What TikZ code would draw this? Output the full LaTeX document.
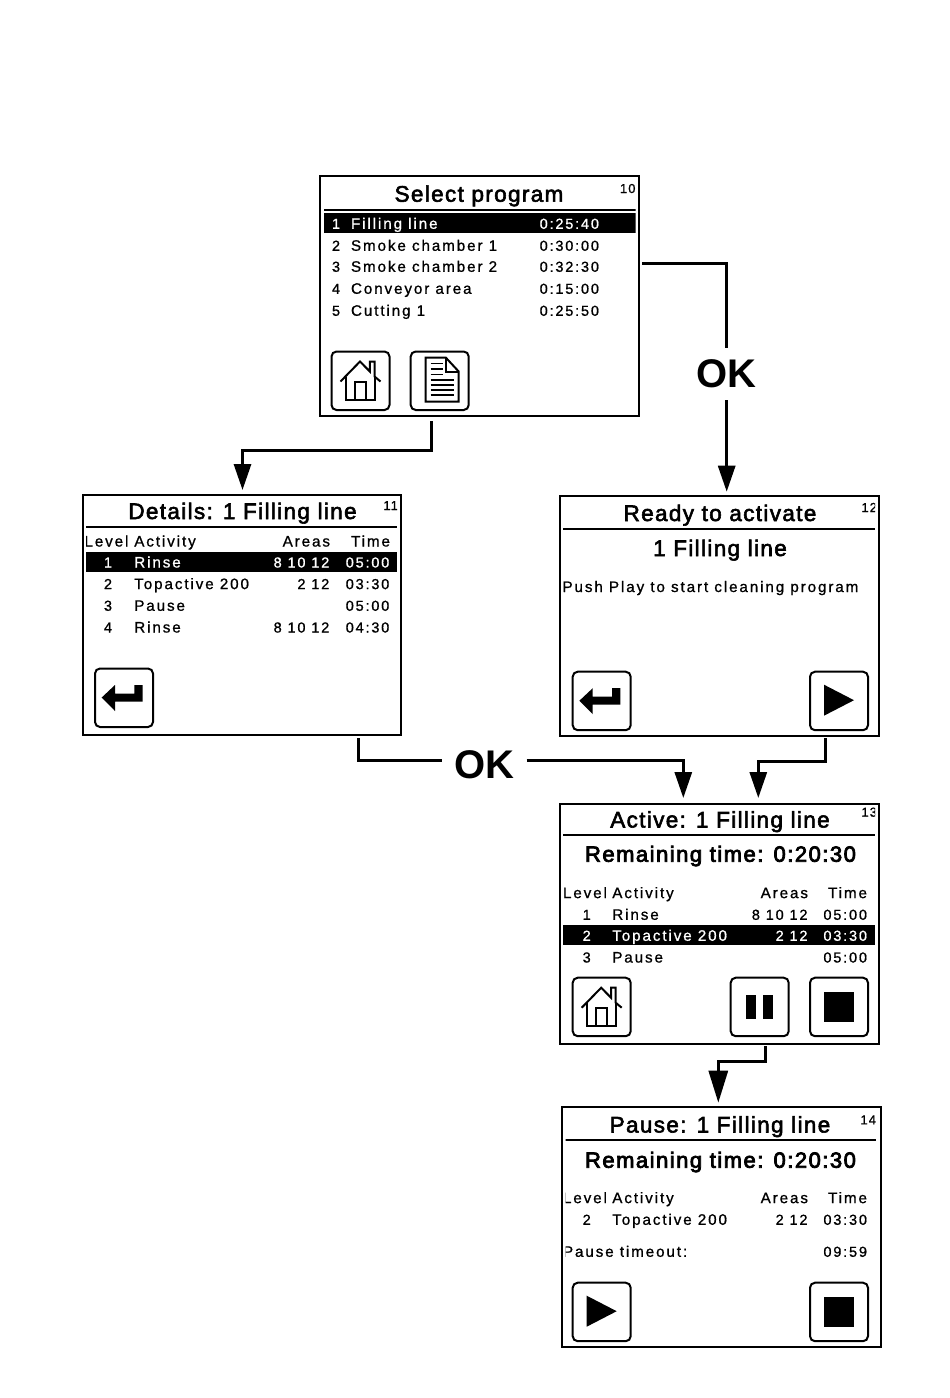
\documentclass[tikz,border=0pt]{standalone}
\usepackage{fontspec}
\usetikzlibrary{arrows.meta,calc}
\setmainfont{Liberation Sans}
\newfontfamily\smallf[LetterSpace=12.5,FakeBold=0.9]{Liberation Sans}
\newfontfamily\areaf[LetterSpace=12.5,FakeBold=0.9]{Liberation Sans}
\newfontfamily\numf[LetterSpace=8,FakeBold=0.9]{Liberation Sans}
\newfontfamily\titlef[LetterSpace=6,FakeBold=2.5]{Liberation Sans}
\newfontfamily\remf[LetterSpace=6.8,FakeBold=3.5]{Liberation Sans}
\newcommand\fsS{\smallf\fontsize{15.2}{17}\selectfont}
\newcommand\fsA{\areaf\fontsize{14.5}{17}\selectfont}
\newcommand\fsN{\numf\fontsize{13}{15}\selectfont}
\newcommand\fsT{\titlef\fontsize{22.5}{26}\selectfont}
\newcommand\fsR{\remf\fontsize{22}{26}\selectfont}
\newcounter{tn}
\tikzset{
  screen/.style={draw=black,line width=2pt,fill=white,rectangle,inner sep=0pt,outer sep=0pt},
  lbl/.style={inner sep=0pt,outer sep=0pt,font=\fsS,yshift=0.2pt},
  numlbl/.style={inner sep=0pt,outer sep=0pt,font=\fsN,anchor=base east},
  titlelbl/.style={inner sep=0pt,outer sep=0pt,font=\fsT,anchor=base},
  remlbl/.style={inner sep=0pt,outer sep=0pt,font=\fsR,anchor=base},
  oklbl/.style={inner sep=0pt,outer sep=0pt,font=\fontsize{40}{44}\bfseries\selectfont},
  rule/.style={line width=1.8pt,draw=black},
  bar/.style={fill=black,draw=none},
  btn/.style={draw=black,line width=2pt,rounded corners=5pt,minimum width=58pt,minimum height=58.5pt,inner sep=0pt,outer sep=0pt,rectangle},
  conn/.style={line width=3pt,draw=black},
  conna/.style={conn,-{Triangle[length=26pt,width=17pt]}},
  icon/.style={line width=2pt,draw=black,line join=miter},
  solidicon/.style={fill=black,draw=none},
}
\newcommand\txtL[4][black]{\stepcounter{tn}\node[lbl,anchor=base west,text=#1] (t\arabic{tn}) at (#2,#3) {#4};}
\newcommand\txtR[4][black]{\stepcounter{tn}\node[lbl,anchor=base east,text=#1] (t\arabic{tn}) at (#2,#3) {#4};}
\newcommand\txtC[4][black]{\stepcounter{tn}\node[lbl,anchor=base,text=#1] (t\arabic{tn}) at (#2,#3) {#4};}
\newcommand\btnat[3]{\stepcounter{tn}\begin{scope}[shift={(#1,#2)}]\node[btn] (b\arabic{tn}) at (29,29.25) {};#3\end{scope}}
\newcommand\icHome{%
  \draw[icon] (9,30) -- (28.5,10) -- (38.3,20) -- (38.3,10) -- (43,10) -- (43,25) -- (49,30);
  \draw[icon] (14.5,25) -- (14.5,48.5) -- (43.5,48.5) -- (43.5,25);
  \draw[icon] (23.5,48.5) -- (23.5,30) -- (34,30) -- (34,48.5);}
\newcommand\icDoc{%
  \draw[icon] (15,6) -- (35,6) -- (48,20) -- (48,50) -- (15,50) -- cycle;
  \draw[icon] (35,6) -- (35,20) -- (48,20);
  \foreach \yy in {11.8,17.3,23} \draw[line width=1.6pt] (20,\yy) -- (32,\yy);
  \foreach \yy in {28.5,33.5,38.5,43.5} \draw[line width=1.6pt] (20,\yy) -- (43,\yy);}
\newcommand\icBack{\fill[solidicon] (6.7,29) -- (20,16.5) -- (20,25) -- (39.3,25) -- (39.3,16.5) -- (47.7,16.5) -- (47.7,33) -- (20,33) -- (20,42.5) -- cycle;}
\newcommand\icPlay{\fill[solidicon] (14,13) -- (44,28.5) -- (14,44) -- cycle;}
\newcommand\icStop{\fill[solidicon] (14,14) rectangle (44,44);}
\newcommand\icPause{\fill[solidicon] (15.3,17.3) rectangle (25,41.3);\fill[solidicon] (32.7,17.3) rectangle (42.7,41.3);}
\begin{document}
\begin{tikzpicture}[x=1pt,y=-1pt]
\useasboundingbox (0,0) rectangle (950,1398);
\fill[white] (0,0) rectangle (950,1398);

% ---------- screen frames
\node[screen,minimum width=319pt,minimum height=239.5pt] (s10) at (479.5,295.75) {};
\node[screen,minimum width=318pt,minimum height=240pt] (s11) at (242,614.5) {};
\node[screen,minimum width=319pt,minimum height=240pt] (s12) at (719.5,616) {};
\node[screen,minimum width=319pt,minimum height=240pt] (s13) at (719.5,924) {};
\node[screen,minimum width=319pt,minimum height=240pt] (s14) at (721.5,1227) {};

% ---------- screen 10
\begin{scope}
\clip (324,177) rectangle (635.5,414);
\node[titlelbl] (s10t) at (479,201.7) {Select program};
\node[numlbl] (s10n) at (635.5,193) {10};
\draw[rule] (324,209.7) -- (636,209.7);
\fill[bar] (324,213.3) rectangle (636,233);
\txtL[white]{332}{229}{\fsA 1}\txtL[white]{351}{229}{Filling line}\txtL[white]{539.7}{229}{\fsA 0:25:40}
\txtL{332}{251}{\fsA 2}\txtL{351}{251}{Smoke chamber 1}\txtL{539.7}{251}{\fsA 0:30:00}
\txtL{332}{272}{\fsA 3}\txtL{351}{272}{Smoke chamber 2}\txtL{539.7}{272}{\fsA 0:32:30}
\txtL{332}{294}{\fsA 4}\txtL{351}{294}{Conveyor area}\txtL{539.7}{294}{\fsA 0:15:00}
\txtL{332}{316}{\fsA 5}\txtL{351}{316}{Cutting 1}\txtL{539.7}{316}{\fsA 0:25:50}
\end{scope}
\btnat{331.5}{351.5}{\icHome}
\btnat{410.7}{351.5}{\icDoc}

% ---------- screen 11
\begin{scope}
\clip (86,495) rectangle (397,734);
\node[titlelbl] (s11t) at (242.5,519) {Details: 1 Filling line};
\node[numlbl] (s11n) at (398,510) {11};
\draw[rule] (86,527) -- (397,527);
\txtL{84.5}{546.7}{Level}\txtL{134.3}{546.7}{Activity}\txtR{330}{546.7}{Areas}\txtR{390}{546.7}{Time}
\fill[bar] (86,552.3) rectangle (397,572);
\txtC[white]{108}{567.7}{\fsA 1}\txtL[white]{134.3}{567.7}{Rinse}\txtR[white]{329.3}{567.7}{\fsA 8 10 12}\txtR[white]{389.3}{567.7}{\fsA 05:00}
\txtC{108}{589.3}{\fsA 2}\txtL{134.3}{589.3}{Topactive 200}\txtR{329.3}{589.3}{\fsA 2 12}\txtR{389.3}{589.3}{\fsA 03:30}
\txtC{108}{611}{\fsA 3}\txtL{134.3}{611}{Pause}\txtR{389.3}{611}{\fsA 05:00}
\txtC{108}{632.7}{\fsA 4}\txtL{134.3}{632.7}{Rinse}\txtR{329.3}{632.7}{\fsA 8 10 12}\txtR{389.3}{632.7}{\fsA 04:30}
\end{scope}
\btnat{95}{668.5}{\icBack}

% ---------- screen 12
\begin{scope}
\clip (561,497) rectangle (875,735);
\node[titlelbl] (s12t) at (720,521) {Ready to activate};
\node[numlbl] (s12n) at (877,512) {12};
\draw[rule] (563,529) -- (875,529);
\node[titlelbl] (s12s) at (720,556) {1 Filling line};
\txtL{562.5}{592.2}{Push Play to start cleaning program}
\end{scope}
\btnat{572.7}{671.7}{\icBack}
\btnat{810}{671.7}{\icPlay}

% ---------- screen 13
\begin{scope}
\clip (563,805) rectangle (875,1043);
\node[titlelbl] (s13t) at (720,827.5) {Active: 1 Filling line};
\node[numlbl] (s13n) at (877,816.7) {13};
\draw[rule] (563,835) -- (875,835);
\node[remlbl] (s13r) at (720.5,861.7) {Remaining time: 0:20:30};
\txtL{563}{898.3}{Level}\txtL{612.3}{898.3}{Activity}\txtR{808}{898.3}{Areas}\txtR{867}{898.3}{Time}
\txtC{586.7}{920}{\fsA 1}\txtL{612.3}{920}{Rinse}\txtR{807.5}{920}{\fsA 8 10 12}\txtR{867}{920}{\fsA 05:00}
\fill[bar] (563,925.3) rectangle (875,945);
\txtC[white]{586.7}{941}{\fsA 2}\txtL[white]{612.3}{941}{Topactive 200}\txtR[white]{807.5}{941}{\fsA 2 12}\txtR[white]{867}{941}{\fsA 03:30}
\txtC{586.7}{962.7}{\fsA 3}\txtL{612.3}{962.7}{Pause}\txtR{867}{962.7}{\fsA 05:00}
\end{scope}
\btnat{572.7}{977.7}{\icHome}
\btnat{730.7}{977.7}{\icPause}
\btnat{810}{977.7}{\icStop}

% ---------- screen 14
\begin{scope}
\clip (565.5,1108) rectangle (876,1346);
\node[titlelbl] (s14t) at (720,1132.5) {Pause: 1 Filling line};
\node[numlbl] (s14n) at (876,1124.3) {14};
\draw[rule] (565,1140) -- (876,1140);
\node[remlbl] (s14r) at (720.5,1167.7) {Remaining time: 0:20:30};
\txtL{563}{1203.3}{Level}\txtL{612.3}{1203.3}{Activity}\txtR{808}{1203.3}{Areas}\txtR{867}{1203.3}{Time}
\txtC{586.7}{1225}{\fsA 2}\txtL{612.3}{1225}{Topactive 200}\txtR{807.5}{1225}{\fsA 2 12}\txtR{867}{1225}{\fsA 03:30}
\txtL{563}{1257}{Pause timeout:}\txtR{867}{1257}{\fsA 09:59}
\end{scope}
\btnat{572.7}{1282.7}{\icPlay}
\btnat{810}{1282.7}{\icStop}

% ---------- OK labels
\node[oklbl,minimum width=60pt,minimum height=52pt] (ok1) at (726.5,374) {OK};
\node[oklbl,minimum width=85pt,minimum height=40pt] (ok2) at (484,764.5) {OK};

% ---------- connector ends
\coordinate (c1s) at (642,263.5);
\coordinate (c1e) at (726.7,491.7);
\coordinate (c2s) at (431,421);
\coordinate (c2e) at (242.5,490);
\coordinate (c3s) at (358,738);
\coordinate (c3e) at (683.3,798);
\coordinate (c4s) at (825.7,738);
\coordinate (c4e) at (758.3,798);
\coordinate (c5s) at (765.7,1046);
\coordinate (c5e) at (718.3,1102.7);

% ---------- connectors
\draw[conn] (c1s) -| (c1e |- ok1.north);
\draw[conna] (c1e |- ok1.south) -- (c1e);
\draw[conna] (c2s) |- (242.5,450) -- (c2e);
\draw[conn] (c3s) |- (ok2.west |- 0,760);
\draw[conna] (ok2.east |- 0,760) -| (c3e);
\draw[conna] (c4s) |- (758.3,761.5) -- (c4e);
\draw[conn,-{Triangle[length=32pt,width=19pt]}] (c5s) |- (718.3,1061.7) -- (c5e);
\end{tikzpicture}
\end{document}
